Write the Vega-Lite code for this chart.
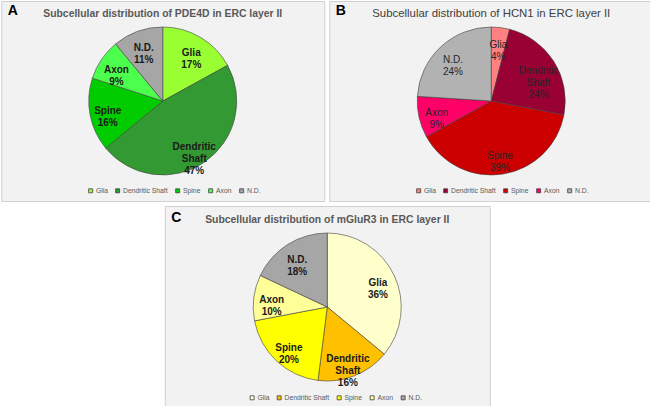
{
  "$schema": "https://vega.github.io/schema/vega-lite/v6.json",
  "padding": 0,
  "background": "white",
  "spacing": 3,
  "center": true,
  "config": {
    "view": {"fill": "#f2f2f2", "stroke": "#d0d0d0"},
    "font": "Liberation Sans",
    "concat": {"spacing": 3}
  },
  "resolve": {"scale": {"color": "independent"}, "legend": {"color": "independent"}},
  "vconcat": [
    {
      "spacing": 3,
      "hconcat": [
        {
          "title": {"text": "A", "anchor": "start", "offset": -17, "dx": 7, "fontSize": 14, "fontWeight": "bold", "color": "#000000", "font": "Liberation Sans"},
          "vconcat": [
            {
              "width": 323,
              "height": 200,
              "view": {"fill": "#f2f2f2", "stroke": "#d0d0d0", "strokeWidth": 1},
              "title": {"text": "Subcellular distribution of PDE4D in ERC layer II", "anchor": "middle", "offset": -18, "fontSize": 10.4, "fontWeight": "bold", "color": "#595959", "font": "Liberation Sans"},
              "data": {"values": [
                {"category": "Glia", "value": 17},
                {"category": "Dendritic Shaft", "value": 47},
                {"category": "Spine", "value": 16},
                {"category": "Axon", "value": 9},
                {"category": "N.D.", "value": 11}
              ]},
              "transform": [{"window": [{"op": "row_number", "as": "slice_order"}]}],
              "encoding": {
                "theta": {"field": "value", "type": "quantitative", "stack": true},
                "order": {"field": "slice_order", "type": "quantitative"},
                "color": {
                  "field": "category", "type": "nominal",
                  "sort": ["Glia", "Dendritic Shaft", "Spine", "Axon", "N.D."],
                  "scale": {"domain": ["Glia", "Dendritic Shaft", "Spine", "Axon", "N.D."], "range": ["#99ff33", "#339933", "#00cc00", "#4dff4d", "#a6a6a6"]},
                  "legend": {"orient": "none", "legendX": 86, "legendY": 186, "direction": "horizontal", "title": null, "symbolType": "square", "symbolSize": 16, "symbolStrokeColor": "#404040", "symbolStrokeWidth": 0.8, "labelFontSize": 6.8, "labelColor": "#595959", "labelFont": "Liberation Sans", "columnPadding": 5, "labelOffset": 2}
                }
              },
              "layer": [
                {"mark": {"type": "arc", "outerRadius": 74, "stroke": "#404040", "strokeWidth": 0.6}},
                {
                  "transform": [{"calculate": "datum.category + ' ' + datum.value + '%'", "as": "label"}],
                  "mark": {"type": "text", "radius": 56, "lineBreak": " ", "fontSize": 10, "fontWeight": "bold", "font": "Liberation Sans"},
                  "encoding": {"text": {"field": "label"}, "fill": {"value": "#1a1a1a"}}
                }
              ]
            }
          ]
        },
        {
          "title": {"text": "B", "anchor": "start", "offset": -17, "dx": 7, "fontSize": 14, "fontWeight": "bold", "color": "#000000", "font": "Liberation Sans"},
          "vconcat": [
            {
              "width": 324,
              "height": 200,
              "view": {"fill": "#f2f2f2", "stroke": "#d0d0d0", "strokeWidth": 1},
              "title": {"text": "Subcellular distribution of HCN1 in ERC layer II", "anchor": "middle", "offset": -18, "fontSize": 11.4, "fontWeight": "normal", "color": "#404040", "font": "Liberation Sans"},
              "data": {"values": [
                {"category": "Glia", "value": 4},
                {"category": "Dendritic Shaft", "value": 24},
                {"category": "Spine", "value": 39},
                {"category": "Axon", "value": 9},
                {"category": "N.D.", "value": 24}
              ]},
              "transform": [{"window": [{"op": "row_number", "as": "slice_order"}]}],
              "encoding": {
                "theta": {"field": "value", "type": "quantitative", "stack": true},
                "order": {"field": "slice_order", "type": "quantitative"},
                "color": {
                  "field": "category", "type": "nominal",
                  "sort": ["Glia", "Dendritic Shaft", "Spine", "Axon", "N.D."],
                  "scale": {"domain": ["Glia", "Dendritic Shaft", "Spine", "Axon", "N.D."], "range": ["#ff8080", "#990033", "#cc0000", "#ff0066", "#b2b2b2"]},
                  "legend": {"orient": "none", "legendX": 86, "legendY": 186, "direction": "horizontal", "title": null, "symbolType": "square", "symbolSize": 16, "symbolStrokeColor": "#404040", "symbolStrokeWidth": 0.8, "labelFontSize": 6.8, "labelColor": "#595959", "labelFont": "Liberation Sans", "columnPadding": 5, "labelOffset": 2}
                }
              },
              "layer": [
                {"mark": {"type": "arc", "outerRadius": 74, "stroke": "#404040", "strokeWidth": 0.6}},
                {
                  "transform": [{"calculate": "datum.category + ' ' + datum.value + '%'", "as": "label"}],
                  "mark": {"type": "text", "radius": 56, "lineBreak": " ", "fontSize": 10, "fontWeight": "normal", "font": "Liberation Sans"},
                  "encoding": {"text": {"field": "label"}, "fill": {"value": "#262626"}}
                }
              ]
            }
          ]
        }
      ],
      "resolve": {"scale": {"color": "independent"}, "legend": {"color": "independent"}}
    },
    {
      "title": {"text": "C", "anchor": "start", "offset": -19, "dx": 7, "fontSize": 14, "fontWeight": "bold", "color": "#000000", "font": "Liberation Sans"},
      "vconcat": [
        {
          "width": 325,
          "height": 202,
          "view": {"fill": "#f2f2f2", "stroke": "#d0d0d0", "strokeWidth": 1},
          "title": {"text": "Subcellular distribution of mGluR3 in ERC layer II", "anchor": "middle", "offset": -19, "fontSize": 10.4, "fontWeight": "bold", "color": "#595959", "font": "Liberation Sans"},
          "data": {"values": [
            {"category": "Glia", "value": 36},
            {"category": "Dendritic Shaft", "value": 16},
            {"category": "Spine", "value": 20},
            {"category": "Axon", "value": 10},
            {"category": "N.D.", "value": 18}
          ]},
          "transform": [{"window": [{"op": "row_number", "as": "slice_order"}]}],
          "encoding": {
            "theta": {"field": "value", "type": "quantitative", "stack": true},
            "order": {"field": "slice_order", "type": "quantitative"},
            "color": {
              "field": "category", "type": "nominal",
              "sort": ["Glia", "Dendritic Shaft", "Spine", "Axon", "N.D."],
              "scale": {"domain": ["Glia", "Dendritic Shaft", "Spine", "Axon", "N.D."], "range": ["#ffffcc", "#ffc000", "#ffff00", "#ffff99", "#a6a6a6"]},
              "legend": {"orient": "none", "legendX": 84, "legendY": 188, "direction": "horizontal", "title": null, "symbolType": "square", "symbolSize": 16, "symbolStrokeColor": "#404040", "symbolStrokeWidth": 0.8, "labelFontSize": 6.8, "labelColor": "#595959", "labelFont": "Liberation Sans", "columnPadding": 5, "labelOffset": 2}
            }
          },
          "layer": [
            {"mark": {"type": "arc", "outerRadius": 74, "stroke": "#404040", "strokeWidth": 0.6}},
            {
              "transform": [{"calculate": "datum.category + ' ' + datum.value + '%'", "as": "label"}],
              "mark": {"type": "text", "radius": 56, "lineBreak": " ", "fontSize": 10, "fontWeight": "bold", "font": "Liberation Sans"},
              "encoding": {"text": {"field": "label"}, "fill": {"value": "#1a1a1a"}}
            }
          ]
        }
      ]
    }
  ]
}
